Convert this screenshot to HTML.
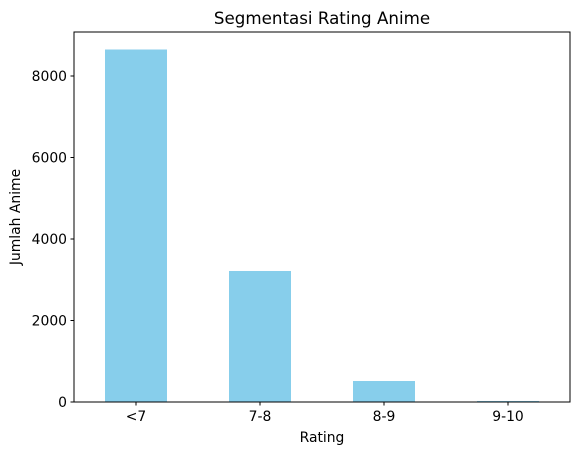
<!DOCTYPE html>
<html><head><meta charset="utf-8"><style>
body{margin:0;background:#fff;}
svg{display:block;font-family:"DejaVu Sans","Liberation Sans",sans-serif;}
</style></head><body>
<svg id="chart" width="580" height="455">
<rect x="0" y="0" width="580" height="455" fill="#fff"/>
<text x="322" y="24" text-anchor="middle" font-size="16.7">Segmentasi Rating Anime</text>
<g id="bars"></g>
<g id="axes"></g>
<text x="322" y="442" text-anchor="middle" font-size="13.9">Rating</text>
<text x="20" y="217" text-anchor="middle" font-size="13.9" transform="rotate(-90 20 217)">Jumlah Anime</text>
</svg>
<script>
const categories = ["<7", "7-8", "8-9", "9-10"];
const counts = [8650, 3215, 515, 25];
const yTicks = [0, 2000, 4000, 6000, 8000];

const L = 74, R = 570, T = 32, B = 402;
const yScale = v => B - v * (81.5 / 2000);
const step = (R - L) / categories.length;
const xCenter = i => L + step * (i + 0.5);
const NS = "http://www.w3.org/2000/svg";
const mk = (tag, attrs, parent) => { const e = document.createElementNS(NS, tag); for (const k in attrs) e.setAttribute(k, attrs[k]); parent.appendChild(e); return e; };

const bars = document.getElementById("bars");
categories.forEach((c, i) => {
  const w = step * 0.5;
  const r = mk("rect", {x: xCenter(i) - w / 2, y: yScale(counts[i]), width: w, height: B - yScale(counts[i]), fill: "#87ceeb"}, bars);
  
  
});

const axes = document.getElementById("axes");
const frame = mk("rect", {x: L, y: T, width: R - L, height: B - T, fill: "none", stroke: "#000", "stroke-width": 1}, axes);


yTicks.forEach(v => {
  const y = yScale(v);
  mk("line", {x1: L - 3.5, x2: L, y1: y, y2: y, stroke: "#000"}, axes);
  const t = mk("text", {x: L - 7, y: y + 5, "text-anchor": "end", "font-size": 13.9}, axes);
  t.textContent = v;
  
  
});
categories.forEach((c, i) => {
  const x = xCenter(i);
  mk("line", {x1: x, x2: x, y1: B, y2: B + 3.5, stroke: "#000"}, axes);
  const t = mk("text", {x: x, y: B + 19, "text-anchor": "middle", "font-size": 13.9}, axes);
  t.textContent = c;
  
  
});
</script>
</body></html>
